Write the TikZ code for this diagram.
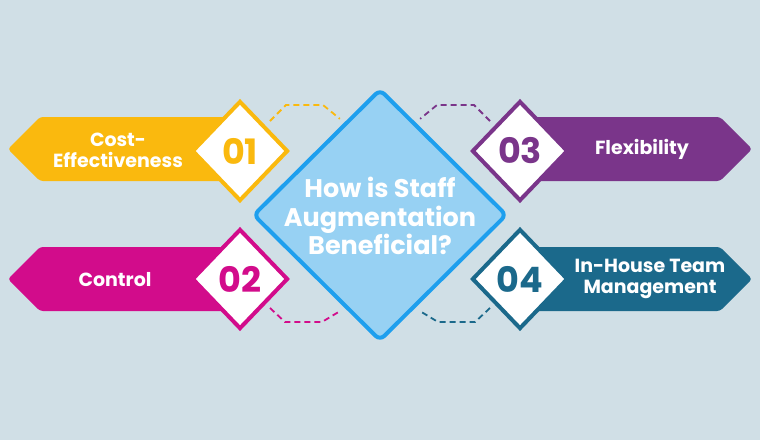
\documentclass[tikz,border=0pt]{standalone}
\usepackage{fontspec}
\setmainfont{Poppins}
\usetikzlibrary{shapes.geometric,calc}

\definecolor{bg}{HTML}{D0DFE6}
\definecolor{gold}{HTML}{FAB90E}
\definecolor{plum}{HTML}{7A358A}
\definecolor{berry}{HTML}{D20C8B}
\definecolor{ocean}{HTML}{1B698B}
\definecolor{sky}{HTML}{97D1F3}
\definecolor{skyline}{HTML}{1E9FEE}

\tikzset{
  banner/.style={fill=#1,rounded corners=3pt},
  badge/.style={diamond,draw=#1,line width=4pt,fill=white,text=#1,
    minimum width=96pt,minimum height=100pt,inner sep=0pt,
    font=\bfseries\fontsize{35}{35}\selectfont},
  hub/.style={diamond,draw=skyline,line width=4pt,fill=sky,
    minimum width=254pt,minimum height=252pt,inner sep=0pt,rounded corners=6pt},
  link/.style={draw=#1,line width=1.8pt,dash pattern=on 6pt off 4pt},
  bannertext/.style={text=white,align=center,
    font=\bfseries\fontsize{19}{21}\selectfont},
  hubtext/.style={text=white,align=center,
    font=\bfseries\fontsize{25.5}{28.5}\selectfont}
}

\begin{document}
\begin{tikzpicture}[x=1pt,y=-1pt]
\useasboundingbox[fill=bg] (0,0) rectangle (760,440);

% banners
\fill[banner=gold] (240,117) -- (40,117) -- (8,149) -- (40,181) -- (240,181) -- cycle;
\fill[banner=berry] (240,247) -- (40,247) -- (8,279) -- (40,311) -- (240,311) -- cycle;
\fill[banner=plum] (520,117) -- (720,117) -- (752,149) -- (720,181) -- (520,181) -- cycle;
\fill[banner=ocean] (520,247) -- (720,247) -- (752,279) -- (720,311) -- (520,311) -- cycle;

% diamonds
\node[hub] (hub) at (380,215) {};
\node[badge=gold] (d1) at (240,151) {01};
\node[badge=berry] (d2) at (240,279) {02};
\node[badge=plum] (d3) at (520,151) {03};
\node[badge=ocean] (d4) at (520,279) {04};

% dashed links
\draw[link=gold] ([shift={(5,-4)}]d1.north east) -- ++(16,-16) -- ++(37,0)
  -- ($(hub.west)!.72!(hub.north)+(-4,-4)$);
\draw[link=plum] ([shift={(-5,-4)}]d3.north west) -- ++(-16,-16) -- ++(-37,0)
  -- ($(hub.east)!.72!(hub.north)+(4,-4)$);
\draw[link=berry] ([shift={(5,3)}]d2.south east) -- ++(15,14) -- ++(37,0)
  -- ($(hub.west)!.72!(hub.south)+(-4,4)$);
\draw[link=ocean] ([shift={(-5,3)}]d4.south west) -- ++(-15,14) -- ++(-37,0)
  -- ($(hub.east)!.72!(hub.south)+(4,4)$);

% texts
\node[hubtext] (q) at (380,216) {How is Staff\\Augmentation\\Beneficial?};
\node[bannertext] (t1) at (118,150) {Cost-\\Effectiveness};
\node[bannertext] (t2) at (115,280) {Control};
\node[bannertext] (t3) at (642,149) {Flexibility};
\node[bannertext] (t4) at (650,279) {In-House Team\\Management};

\end{tikzpicture}
\end{document}
